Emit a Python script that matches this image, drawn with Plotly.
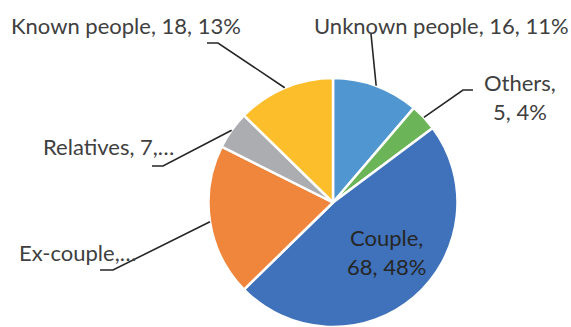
import math
import plotly.graph_objects as go

# ---- data ----
labels = ["Unknown people", "Others", "Couple", "Ex-couple", "Relatives", "Known people"]
values = [16, 5, 68, 28, 7, 18]
colors = ["#5097D2", "#6BB457", "#3F72BA", "#F0853C", "#ACADB0", "#FCBE2A"]
# how Excel truncated/arranged each data label
label_fmt = [
    "{l}, {v}, {p}%",
    "{l},<br>{v}, {p}%",
    "{l},<br>{v}, {p}%",
    "{l},…",
    "{l}, {v},…",
    "{l}, {v}, {p}%",
]
has_leader = [True, True, False, True, True, True]

# ---- layout (pixels) ----
W, H = 571, 327
CX, CY, R = 333, 202.5, 124.5
FONT = "Lato"
FS = 22
TXT = "#404040"
LINE = "#262626"

# label centers and leader-line elbows (pixels, top-left origin)
label_pos = [(441, 25), (520, 97), (386, 252), (77, 253), (108, 146), (126, 25)]
leader_pts = [
    [(371, 34)],
    [(473, 90), (463, 90)],
    None,
    [(100, 270), (113, 270)],
    [(152, 166), (163, 166)],
    [(207, 43), (218, 43)],
]

total = sum(values)
pcts = [round(100 * v / total) for v in values]

def px(x):
    return x / W

def py(y):
    return 1 - y / H

fig = go.Figure(
    go.Pie(
        labels=labels,
        values=values,
        sort=False,
        direction="clockwise",
        rotation=0,
        marker=dict(colors=colors, line=dict(color="white", width=2.5)),
        textinfo="none",
        hoverinfo="skip",
        showlegend=False,
        domain=dict(x=[px(CX - R), px(CX + R)], y=[py(CY + R), py(CY - R)]),
    )
)

annotations = []
shapes = []
start = 0.0
for i, v in enumerate(values):
    span = 360.0 * v / total
    mid = math.radians(start + span / 2)
    start += span
    if has_leader[i]:
        ex = CX + R * math.sin(mid)
        ey = CY - R * math.cos(mid)
        pts = leader_pts[i] + [(ex, ey)]
        path = "M " + " L ".join(f"{px(x):.5f},{py(y):.5f}" for x, y in pts)
        shapes.append(dict(type="path", path=path, xref="paper", yref="paper",
                           line=dict(color=LINE, width=1.6)))
    lx, ly = label_pos[i]
    annotations.append(dict(
        x=px(lx), y=py(ly), xref="paper", yref="paper",
        text=label_fmt[i].format(l=labels[i], v=v, p=pcts[i]),
        showarrow=False, xanchor="center", yanchor="middle",
        font=dict(family=FONT, size=FS, color=TXT if has_leader[i] else "#262626"),
        align="center",
    ))

fig.update_layout(
    width=W, height=H, autosize=False,
    margin=dict(l=0, r=0, t=0, b=0),
    paper_bgcolor="white", plot_bgcolor="white",
    annotations=annotations, shapes=shapes,
)

fig.write_html(
    "out.html",
    config={"displayModeBar": False, "staticPlot": True},
    post_script="document.body.style.margin='0';document.body.style.overflow='hidden';",
)
